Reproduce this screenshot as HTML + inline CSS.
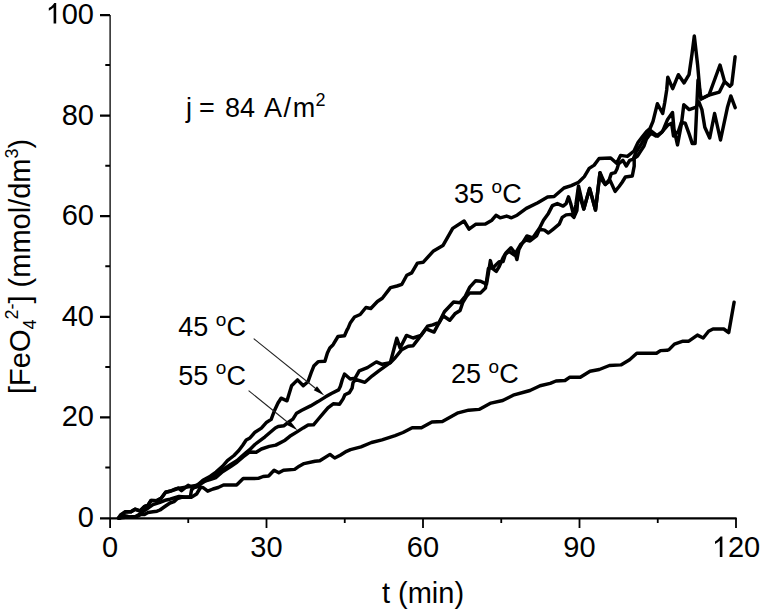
<!DOCTYPE html>
<html><head><meta charset="utf-8"><style>
html,body{margin:0;padding:0;background:#fff;width:762px;height:612px;overflow:hidden}
svg{display:block}
text{font-family:"Liberation Sans",sans-serif;fill:#000}
</style></head><body>
<svg width="762" height="612" viewBox="0 0 762 612">
<g fill="none" stroke-linecap="butt">
<path stroke="#000" stroke-width="1.3" d="M110.1,15 V518"/>
<path stroke="#000" stroke-width="2.2" d="M100,518.4 H736.6"/>
<path stroke="#000" stroke-width="2.2" d="M100,15.2H110 M100,115.6H110 M100,216.2H110 M100,316.8H110 M100,417.4H110"/>
<path stroke="#000" stroke-width="2" d="M105.3,65H110 M105.3,165.7H110 M105.3,266.3H110 M105.3,366.9H110 M105.3,467.5H110"/>
<path stroke="#000" stroke-width="1.8" d="M110.1,518V528 M266.5,518V528 M423,518V528 M579.5,518V528 M736,518V528"/>
<path stroke="#000" stroke-width="1.8" d="M188.25,518V523 M344.75,518V523 M501.25,518V523 M657.75,518V523"/>
</g>
<g font-size="29">
<text x="94" y="24" text-anchor="end">00</text><path fill="#000" transform="translate(56.2,3.1)" d="M0,0 L-1.9,0 L-3.2,1.7 L-5.2,3.6 L-7.4,5.0 L-7.4,7.6 L-4.9,6.2 L-2.6,4.4 L-2.6,20.5 L0,20.5 Z"/>
<text x="94" y="124.6" text-anchor="end">80</text>
<text x="94" y="225.2" text-anchor="end">60</text>
<text x="94" y="325.8" text-anchor="end">40</text>
<text x="94" y="426.4" text-anchor="end">20</text>
<text x="94" y="527" text-anchor="end">0</text>
<text x="110" y="557" text-anchor="middle">0</text>
<text x="266.5" y="557" text-anchor="middle">30</text>
<text x="423" y="557" text-anchor="middle">60</text>
<text x="579.5" y="557" text-anchor="middle">90</text>
<text x="727.9" y="557">20</text><path fill="#000" transform="translate(722.4,536.4)" d="M0,0 L-1.9,0 L-3.2,1.7 L-5.2,3.6 L-7.4,5.0 L-7.4,7.6 L-4.9,6.2 L-2.6,4.4 L-2.6,20.5 L0,20.5 Z"/>
<text x="423" y="603" text-anchor="middle">t (min)</text>
</g>
<text transform="rotate(-90)" x="-394" y="30" font-size="29">[FeO<tspan font-size="18" dy="6">4</tspan><tspan font-size="18" dy="-18">2-</tspan><tspan dy="12">] (mmol/dm</tspan><tspan font-size="18" dy="-12">3</tspan><tspan dy="12">)</tspan></text>
<!--CURVES-->
<g fill="none" stroke="#000" stroke-width="3.45" stroke-linejoin="round" stroke-linecap="round">
<polyline points="118.5,518 128,517 137,516.5 141,514.5 144.5,514.5 148,512.5 153,511.8 157,511.2 160,510 165.6,506 170,503 174,501.6 177.5,498.5 181.5,497.3 191.3,497.3 196.6,494 200.5,487.5 203,487.5 207.7,491.2 213,489 218.2,487.5 223.5,485 236.6,485 243.2,478.5 258.3,478.4 263.1,476.5 268.6,476 274.1,470.2 278.8,472.8 283.5,470.2 294.6,469.4 299.2,466.2 304,463.6 315,461.2 319.8,460.7 330,454.4 334.7,458 340.2,455.2 346.5,451.3 350.5,449.6 361,446.9 371.5,442.5 382,439.8 395.1,435.6 403,432.5 412.2,427.8 421.4,427.8 431.9,422 442.4,421.5 458.1,412.8 468.6,410.2 479.1,409.4 490.9,403.1 502.7,400.5 513.2,395.2 526.4,391.5 530,390.5 540.1,385.8 550.2,383.4 556,381 565,380.5 569.5,377.3 580.3,377.3 590,371.2 599.3,369.5 609.4,365.5 620.9,364.9 629.6,359.7 636.8,353.3 656.5,353.3 660.5,350.6 667,350.3 669,349.6 674.4,344.1 683,341.2 688.8,341.2 697.4,335.1 703.2,338 708.6,331.2 713,329 723.8,329 728.7,332.6 730.2,324.3 734.1,302.3"/>
<polyline points="118.5,518 120.5,515 125,511.8 131,511.7 135,509.2 140,511.2 144.5,506.5 148,505.5 151,500.5 157,500.6 161.3,498.2 165.6,492.2 170.6,491 175,489.2 178.3,488 181.5,490.6 188.1,485.3 192,487.6 195.3,487 202.9,480.2 210.3,476.2 216,472.1 222.5,466.3 227.4,460.6 234,455.5 238.8,450.5 242.9,445 246.2,440 250,437.9 255,432.2 261.4,428.1 266.7,422.2 271.2,419.4 274.5,410.5 278,403 281.1,398.2 287,400.8 291.6,385.8 297.5,379.9 303.3,385.8 307.9,381.8 311.2,372.7 313.8,366.1 318.4,361.6 324.9,361.2 327.4,352.9 329.8,348 333.1,344.7 338,336.5 344.5,335.7 347,330 348,328.4 350.4,322.7 354.5,317 360.2,314.5 365.9,307.5 370.8,308.5 377.4,301.5 382.3,298.2 390.5,287.6 397,286 401.9,284.3 406.8,275.3 411.7,272.9 417.4,263.1 423.1,262.3 433.1,251.3 442.9,245.6 452.7,228.4 464.1,221 469,229.2 475.6,224.3 485.4,224 491.9,220.2 496,215.3 500.1,217.8 506.6,216.1 511.5,217.8 517.1,215.2 526.3,208.4 537.8,202.7 547.6,197 554.1,196.5 563.9,188 571.3,185.6 578.6,182.3 584.3,176.6 589.2,168.4 594.2,165.1 599.1,158.5 610.7,158 616.6,163.2 620.5,155.4 627.4,156.4 634,151 638,142.5 642.5,136.5 646.5,131.5 650,128.5 653,121.4 657.4,103.7 662.7,113.5 664.7,102.7 666.7,90 667.8,77.2 672.7,88.6 678.4,74.7 684.1,82.9 689,74.7 692,54 694.3,36 697.6,64.7 700,92 701,99 709,95 720,65 724.6,81.6 729.8,86.2 731.8,84.2 735.1,56.8"/>
<polyline points="119.5,518 122,514.5 125,512 131,511.7 135,509.2 140,510.8 144.5,506.5 148,505 151,500.5 157,500.6 161,498.2 165.6,492.2 170,491.3 178,488.5 184,487.5 190,486.5 196,485.5 201,483 205,481 210,478.5 216,475 222.5,470 230.7,464.5 237.2,460.5 242.1,456 245.8,452.9 249.7,449.7 254.9,444.5 265,436.8 275.3,428 278.2,426.5 284.1,425.7 288.5,422.1 292.9,419.1 296.6,413.2 301.8,410.3 310.6,405.9 318,401.6 325.2,397.1 331.4,393.5 338.6,389.9 340.4,386.3 342.2,380 344.5,374 350.2,379 355.1,378.2 359.2,370.8 367.4,367.6 376.4,361.9 382.1,364.3 390.3,362.7 396.8,338.2 400.1,348 406.5,335.4 413.1,338 420.9,335.4 427.5,326.2 432.7,324.9 439.2,322.3 444.4,311.8 453.6,302 460.1,302.7 465.4,296.1 469.8,287.1 475.7,280.7 480.6,281.2 486.5,284.1 488.4,273.3 490.4,260.6 492.4,268.4 496.3,271.4 499.2,266.5 503.1,257.6 506.1,252.7 511,247.8 514.9,252.7 516.9,259.6 518.8,249.8 522,243.8 526.9,236 532.7,238 539.6,228.1 543.5,220.3 548.4,213.4 552.4,205.6 557.3,203.6 563.1,206.1 566.1,203.6 568.5,196.8 571,204.6 573.9,216.4 575.9,204.6 578.5,186 583.8,209 589.6,188.4 595.5,210 600,172.7 602.4,180.6 605.3,184.5 609.3,179.6 611.2,173.7 615.1,172.7 617.1,168.8 618.5,164 622.9,160.3 626.3,166 629.7,160.3 633.2,159.2 636.5,151.2 641.2,144.3 646,135.2 650,130.2 657.8,136.1 662.7,131.2 667.6,119.4 672.5,112.5 674,129.2 677.5,144.9 681.4,124.3 683.8,104.7 689.2,109.6 696.1,107.2 698.9,101.8 701.9,109.6 704.8,127.3 709.7,138 714.6,113.5 720.5,140 727.4,107.6 730.8,95.9 735.2,107.6"/>
<polyline points="120,518 123.5,515.5 127,516.3 131,517.3 135,516.8 141,513.5 146,509.5 153,504.6 160,502.3 165,500.3 170,499.2 179,496.5 185,497 190.3,497 191.5,490 194,487.5 198,486.5 202,483 205,481 210,479.5 216,477.5 222.5,471.8 230.7,466.5 237.2,462 243.1,457 249.7,452 256.2,452.3 261.4,449 269.3,446.4 275.8,445.1 285.1,440.2 289.8,436.3 297.4,431.6 303.2,427.9 308.1,425 313.5,424.9 318,419.5 323.4,413.2 327.9,407.9 333.2,403.8 339.5,404.3 343.1,398.9 344.9,394.8 349.4,392.6 352.1,388.1 353,382.7 355.7,379.5 364.9,382.3 372.3,375.8 378.8,370.8 390.3,362.7 395.2,357.8 401.7,349.6 408.2,346.3 413.1,345.8 417,340.6 426.1,328.8 434,332.1 437.9,324.9 443.1,315.8 449.7,320.3 454.9,313.8 460.1,310.5 462.7,302.7 466.7,296.1 469.8,292.9 480.6,292.9 485.5,288 488.4,268.4 493.3,267.5 499.2,261.6 503.1,261.6 505.3,254.4 509,251.3 514.4,255.1 521,244 526.2,240 530,241 536.5,236 539.6,229.1 544.5,230.1 548.4,233 553.3,229.1 559.2,224.2 562.2,217.4 566.1,214.9 571,214.4 573.9,217.4 576.9,210.5 578.5,190 581,200 583.8,209 589.6,188.4 595.5,210 600,172.7 605.3,184.5 610.2,180.6 615.1,191.4 619.1,186.5 622,182.5 625.4,177 632.3,176 634.2,166.2 634.2,158.3 637.5,156 641,150.5 644,146 646.5,139 651,133 655.9,136.1 661.8,132.2 667.6,125.3 671.6,123.3 673.5,136.1 678.4,131.2 681.4,122.4 685.3,123.3 689.2,134.1 692.2,143.4 695.1,143.4 698,80 700.3,94 701,99 709,95 719.4,92.1 724.6,81.6"/>
</g>
<!--/CURVES-->
<!--ARROWS-->
<g stroke="#222" stroke-width="1.1" fill="none">
<line x1="253.7" y1="338.6" x2="316" y2="388.8"/>
<line x1="248.6" y1="390.6" x2="289.5" y2="423.8"/>
</g>
<g fill="#000" stroke="none">
<polygon points="324.3,395.5 313.8,390.3 317,386.3"/>
<polygon points="297.5,430.3 287,425.1 290.2,421.1"/>
</g>
<!--/ARROWS-->

<g font-size="27">
<text x="186" y="116.5">j</text><text x="199" y="116.5">=</text><text x="225" y="116.5">84</text><text x="264" y="116.5" letter-spacing="1.6">A/m</text><text x="315.5" y="105.5" font-size="18">2</text>
<text x="454" y="203">35 <tspan font-size="19" dy="-10.5">o</tspan><tspan dy="10.5">C</tspan></text>
<text x="178.3" y="336">45 <tspan font-size="19" dy="-10.5">o</tspan><tspan dy="10.5">C</tspan></text>
<text x="178.3" y="384.5">55 <tspan font-size="19" dy="-10.5">o</tspan><tspan dy="10.5">C</tspan></text>
<text x="451" y="383">25 <tspan font-size="19" dy="-10.5">o</tspan><tspan dy="10.5">C</tspan></text>
</g>
</svg>
</body></html>
